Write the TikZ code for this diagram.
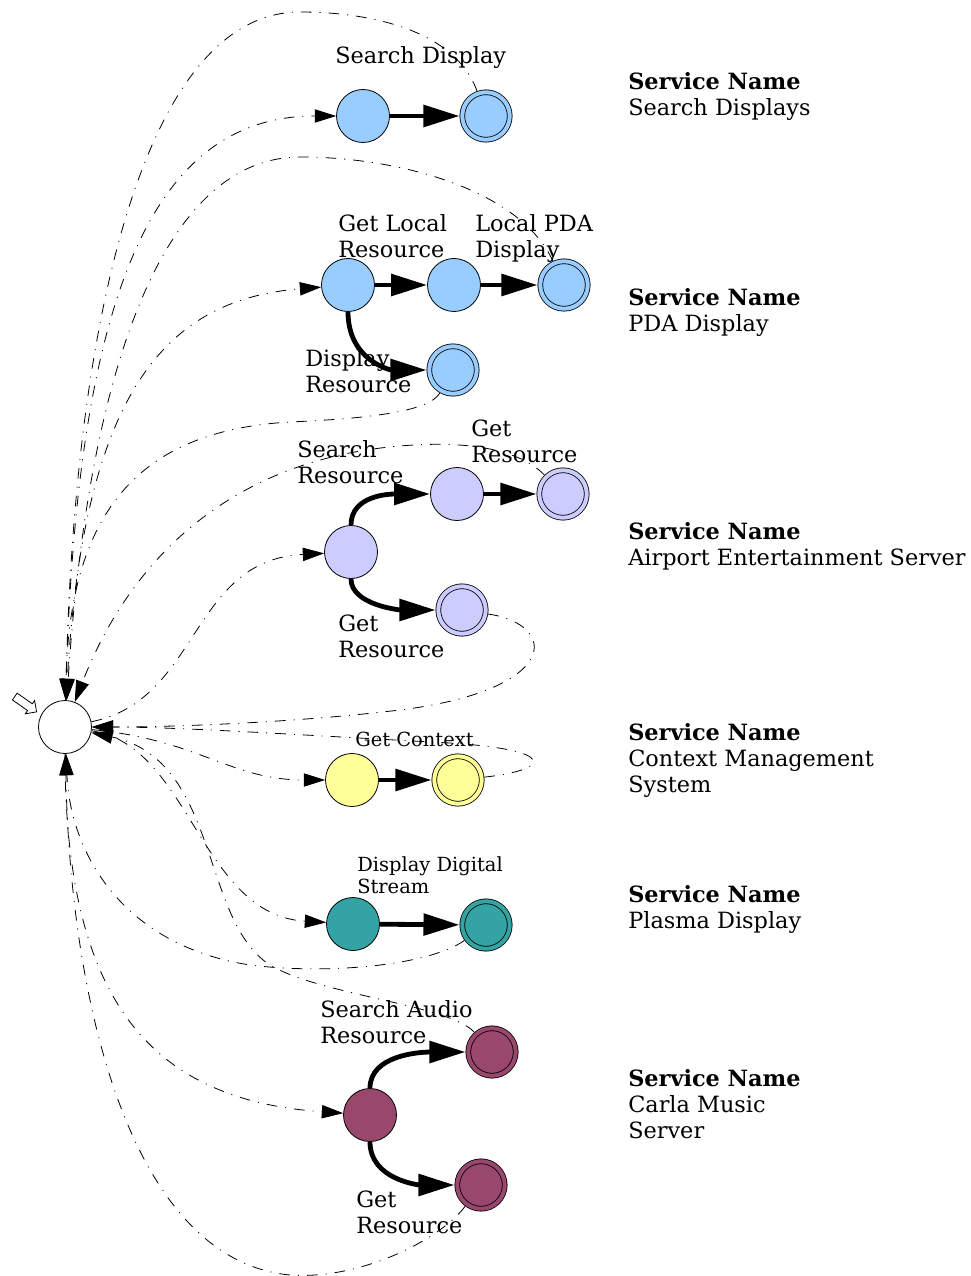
\documentclass[tikz,border=0pt]{standalone}
\usepackage{fontspec}
\setmainfont{DejaVu Serif}
\usetikzlibrary{arrows.meta, shapes.arrows}
\definecolor{searchblue}{HTML}{99CCFF}
\definecolor{airportlilac}{HTML}{CCCCFF}
\definecolor{contextyellow}{HTML}{FFFF99}
\definecolor{plasmateal}{HTML}{33A3A3}
\definecolor{carlaplum}{HTML}{99476C}

\begin{document}
\begin{tikzpicture}[
  x=0.75pt, y=-0.75pt,
  state/.style={circle, draw, line width=0.6pt, minimum size=39.75pt, inner sep=0pt},
  final/.style={state, fill=#1, double=#1, double distance=3pt, minimum size=35.6pt, outer sep=2.1pt},
  trans/.style={line width=3.6pt, -{Triangle[length=27pt,width=16pt]}},
  back/.style={line width=0.6pt, dash pattern=on 8pt off 6pt on 0.8pt off 6pt, -{Triangle[length=16pt,width=10pt]}},
  lbl/.style={anchor=north west, inner sep=0pt, align=left, font=\fontsize{16.8}{19.5}\selectfont},
  smalllbl/.style={lbl, font=\fontsize{14.6}{17.2}\selectfont}
]
  \useasboundingbox (0,0) rectangle (970,1276);

  \node[state] (init) at (65,727) {};
  \node[single arrow, draw, line width=0.6pt, minimum height=20pt, inner sep=2.8pt,
        single arrow head extend=3pt, rotate=-35] (start) at (24,703) {};

  \node[state, fill=searchblue] (s1) at (363,116) {};
  \node[final=searchblue] (s2) at (486,116) {};

  \node[state, fill=searchblue] (p1) at (348,285) {};
  \node[state, fill=searchblue] (p2) at (454,285) {};
  \node[final=searchblue] (p3) at (564,285) {};
  \node[final=searchblue] (p4) at (453,370) {};

  \node[state, fill=airportlilac] (a1) at (351,552) {};
  \node[state, fill=airportlilac] (a2) at (457,494) {};
  \node[final=airportlilac] (a3) at (563,494) {};
  \node[final=airportlilac] (a4) at (462,610) {};

  \node[state, fill=contextyellow] (c1) at (352,780) {};
  \node[final=contextyellow] (c2) at (458,780) {};

  \node[state, fill=plasmateal] (d1) at (353,924) {};
  \node[final=plasmateal] (d2) at (486,925) {};

  \node[state, fill=carlaplum] (m1) at (370,1115) {};
  \node[final=carlaplum] (m2) at (492,1052) {};
  \node[final=carlaplum] (m3) at (481,1185) {};

  \node[lbl] (searchdisplay) at (335,46) {Search Display};
  \node[lbl] (getlocal) at (338,214) {Get Local\\Resource};
  \node[lbl] (localpda) at (475,214) {Local PDA\\Display};
  \node[lbl] (displayres) at (305,349) {Display\\Resource};
  \node[lbl] (searchres) at (297,440) {Search\\Resource};
  \node[lbl] (getresup) at (471,420) {Get\\Resource};
  \node[lbl] (getresdown) at (338,615) {Get\\Resource};
  \node[smalllbl] (getcontext) at (355,732) {Get Context};
  \node[smalllbl] (digitalstream) at (357,856) {Display Digital\\Stream};
  \node[lbl] (searchaudio) at (320,1000) {Search Audio\\Resource};
  \node[lbl] (getaudio) at (356,1191) {Get\\Resource};

  \node[lbl] (svcsearch) at (628,72) {\textbf{Service Name}\\Search Displays};
  \node[lbl] (svcpda) at (628,288) {\textbf{Service Name}\\PDA Display};
  \node[lbl] (svcairport) at (628,522) {\textbf{Service Name}\\Airport Entertainment Server};
  \node[lbl] (svccontext) at (628,723) {\textbf{Service Name}\\Context Management\\System};
  \node[lbl] (svcplasma) at (628,885) {\textbf{Service Name}\\Plasma Display};
  \node[lbl] (svccarla) at (628,1069) {\textbf{Service Name}\\Carla Music\\Server};

  \draw[trans] (s1) -- (s2);
  \draw[trans] (p1) -- (p2);
  \draw[trans] (p2) -- (p3);
  \draw[trans] (p1.south) .. controls (348,360) and (390,370) .. (p4);
  \draw[trans] (a1.north) .. controls (351,495) and (390,494) .. (a2);
  \draw[trans] (a2) -- (a3);
  \draw[trans] (a1.south) .. controls (351,605) and (400,610) .. (a4);
  \draw[trans] (c1) -- (c2);
  \draw[trans] (d1) -- (d2);
  \draw[trans] (m1.north) .. controls (370,1055) and (420,1052) .. (m2);
  \draw[trans] (m1.south) .. controls (370,1180) and (420,1185) .. (m3);

  \draw[back] (init) .. controls (75,300) and (150,116) .. (s1);
  \draw[back] (s2) .. controls (455,30) and (370,12) .. (300,12) .. controls (150,12) and (75,300) .. (init);
  \draw[back] (init) .. controls (80,400) and (160,300) .. (p1);
  \draw[back] (p3) .. controls (520,190) and (400,157) .. (300,157) .. controls (170,157) and (90,350) .. (init);
  \draw[back] (p4) .. controls (430,410) and (380,418) .. (290,422) .. controls (150,430) and (70,500) .. (init);
  \draw[back] (init) .. controls (200,700) and (190,560) .. (a1);
  \draw[back] (a3) .. controls (520,450) and (470,440) .. (400,446) .. controls (230,460) and (130,560) .. (init);
  \draw[back] (a4) .. controls (560,625) and (560,690) .. (400,710) .. controls (300,722) and (180,727) .. (init);
  \draw[back] (init) .. controls (200,740) and (230,780) .. (c1);
  \draw[back] (c2) .. controls (550,770) and (560,750) .. (450,743) .. controls (300,735) and (180,727) .. (init);
  \draw[back] (init) .. controls (190,745) and (200,915) .. (d1);
  \draw[back] (d2) .. controls (430,965) and (330,975) .. (250,965) .. controls (120,945) and (70,850) .. (init);
  \draw[back] (m2) .. controls (450,1005) and (320,995) .. (270,965) .. controls (200,920) and (220,760) .. (init);
  \draw[back] (init) .. controls (65,1000) and (150,1100) .. (m1);
  \draw[back] (m3) .. controls (440,1240) and (360,1280) .. (290,1275) .. controls (130,1260) and (70,1000) .. (init);
\end{tikzpicture}
\end{document}
